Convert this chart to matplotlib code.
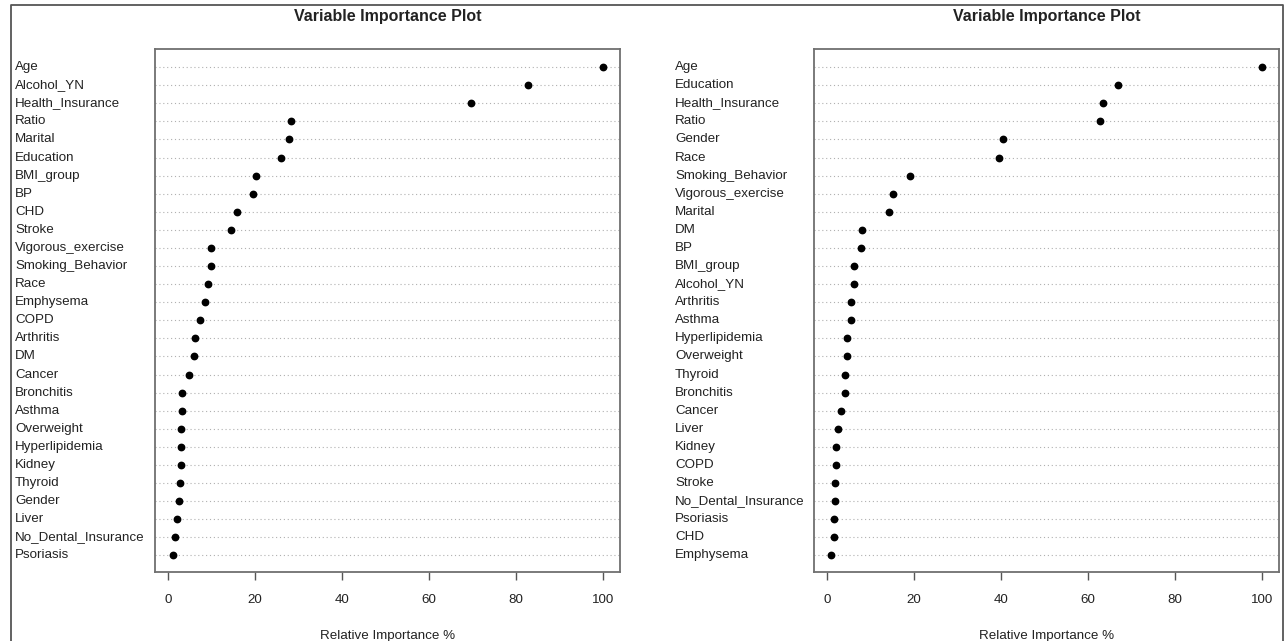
import matplotlib
matplotlib.use('Agg')
import matplotlib.pyplot as plt
from matplotlib.lines import Line2D
from matplotlib.transforms import blended_transform_factory

plt.rcParams['font.family'] = ['Liberation Sans', 'DejaVu Sans']

# 左图数据（从上到下）
left_vars = ['Age', 'Alcohol_YN', 'Health_Insurance', 'Ratio', 'Marital', 'Education',
             'BMI_group', 'BP', 'CHD', 'Stroke', 'Vigorous_exercise', 'Smoking_Behavior',
             'Race', 'Emphysema', 'COPD', 'Arthritis', 'DM', 'Cancer', 'Bronchitis',
             'Asthma', 'Overweight', 'Hyperlipidemia', 'Kidney', 'Thyroid', 'Gender',
             'Liver', 'No_Dental_Insurance', 'Psoriasis']
left_imp = [100, 82.9, 69.8, 28.3, 27.9, 25.9, 20.3, 19.5, 15.8, 14.6, 10.0, 9.9,
            9.1, 8.6, 7.4, 6.3, 6.0, 4.8, 3.2, 3.1, 3.0, 3.0, 3.0, 2.7, 2.6,
            2.1, 1.6, 1.2]

# 右图数据（从上到下）
right_vars = ['Age', 'Education', 'Health_Insurance', 'Ratio', 'Gender', 'Race',
              'Smoking_Behavior', 'Vigorous_exercise', 'Marital', 'DM', 'BP', 'BMI_group',
              'Alcohol_YN', 'Arthritis', 'Asthma', 'Hyperlipidemia', 'Overweight',
              'Thyroid', 'Bronchitis', 'Cancer', 'Liver', 'Kidney', 'COPD', 'Stroke',
              'No_Dental_Insurance', 'Psoriasis', 'CHD', 'Emphysema']
right_imp = [100, 66.9, 63.5, 62.7, 40.5, 39.6, 19.1, 15.1, 14.3, 8.1, 7.9, 6.3,
             6.2, 5.6, 5.4, 4.6, 4.5, 4.2, 4.1, 3.3, 2.5, 2.0, 2.0, 1.9,
             1.8, 1.7, 1.5, 0.9]

xticks = [0, 20, 40, 60, 80, 100]

W, H = 1285, 641
fig = plt.figure(figsize=(W / 100, H / 100), dpi=100)

# 外框
bx = [11 / W, 11 / W, 1283 / W, 1283 / W]
by = [0, 1 - 5 / H, 1 - 5 / H, 0]
fig.add_artist(Line2D(bx, by, color='#555555', lw=1.3, transform=fig.transFigure))


def draw_panel(ax_left, label_x, names, values):
    ax = fig.add_axes([ax_left / W, 69 / H, 465 / W, 523 / H])
    n = len(names)
    ypos = list(range(n, 0, -1))
    for y in ypos:
        ax.axhline(y, color='#b0b0b0', lw=0.8, ls=(0, (1, 2.5)), zorder=1)
    ax.plot(values, ypos, 'o', color='black', ms=4.6, zorder=3)
    ax.set_xlim(-3, 104)
    ax.set_ylim(0.08, n + 1)
    ax.set_yticks([])
    ax.set_xticks(xticks)
    ax.tick_params(axis='x', length=6, width=1, color='#555555', pad=10,
                   labelsize=9.6, labelcolor='#222222')
    for s in ax.spines.values():
        s.set_color('#707070')
        s.set_linewidth(1.3)
    ax.set_xlabel('Relative Importance %', fontsize=9.6, color='#222222', labelpad=17)
    # 标题
    fig.text((ax_left + 232.5) / W, 1 - 17 / H, 'Variable Importance Plot',
             ha='center', va='center', fontsize=11.5, fontweight='bold', color='#222222')
    trans = blended_transform_factory(fig.transFigure, ax.transData)
    for name, y in zip(names, ypos):
        fig.text(label_x / W, y, name, transform=trans, ha='left', va='center',
                 fontsize=9.6, color='#222222')
    return ax


draw_panel(155, 15, left_vars, left_imp)
draw_panel(814, 675, right_vars, right_imp)

plt.savefig('out.png', dpi=100)
